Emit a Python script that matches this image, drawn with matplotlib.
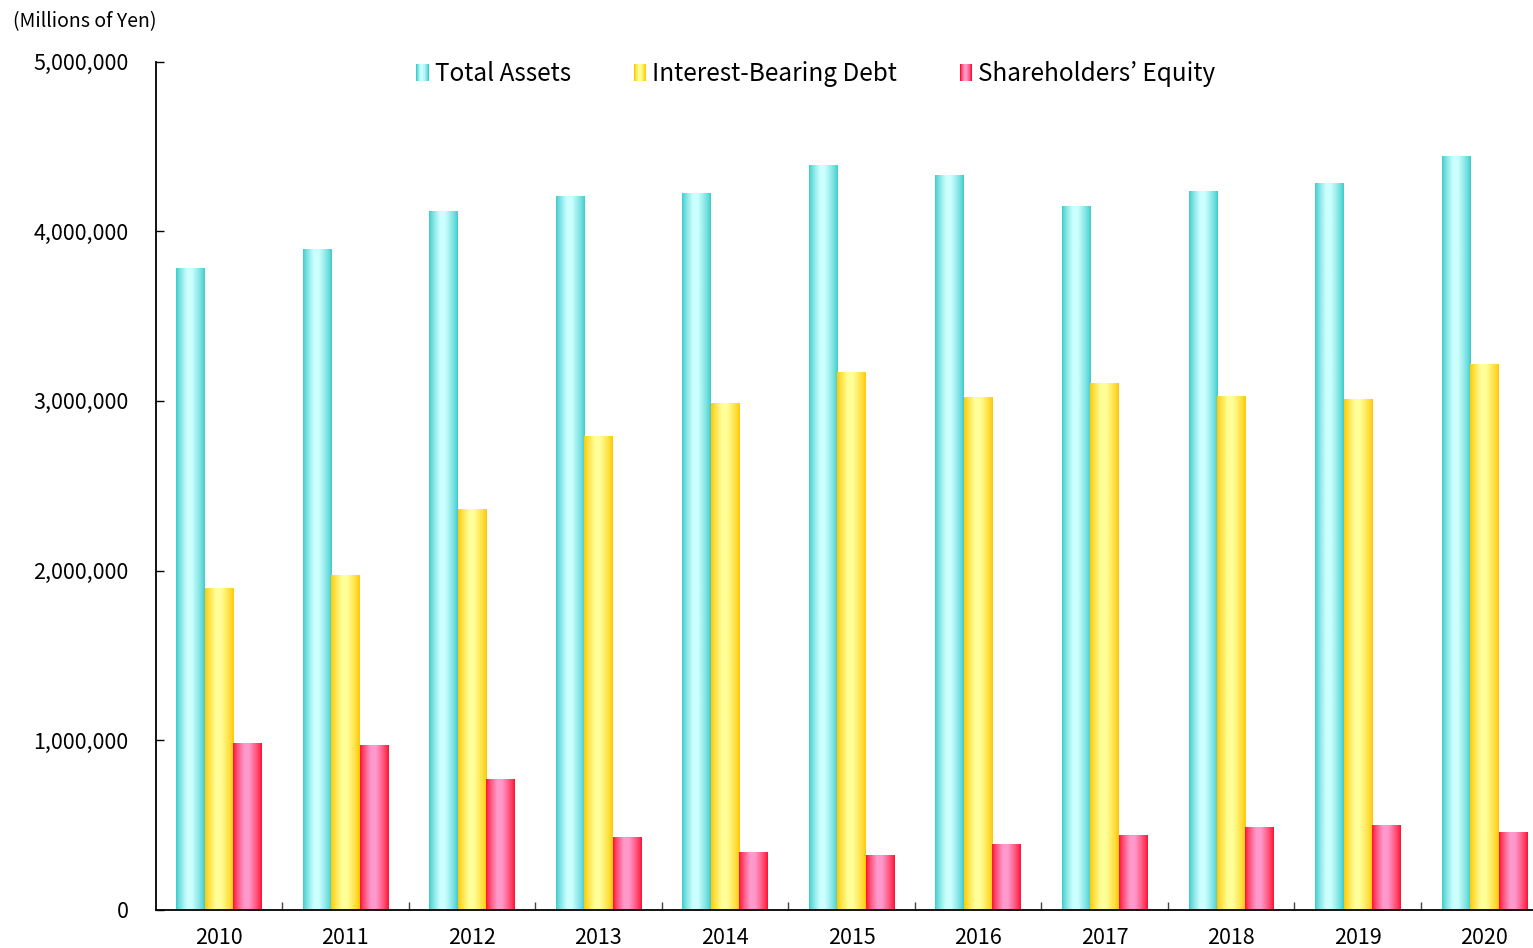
import numpy as np
import matplotlib
matplotlib.use("Agg")
import matplotlib.pyplot as plt
from matplotlib.patches import Rectangle
from matplotlib.legend_handler import HandlerBase
from matplotlib.ticker import FuncFormatter, FixedLocator
from matplotlib.colors import to_rgb

plt.rcParams['font.family'] = ['Noto Sans CJK JP', 'DejaVu Sans']

years = ['2010', '2011', '2012', '2013', '2014', '2015', '2016', '2017', '2018', '2019', '2020']
total_assets = [3781000, 3893000, 4117000, 4205000, 4223000, 4393000, 4329000, 4146000, 4234000, 4282000, 4442000]
interest_bearing_debt = [1896000, 1973000, 2362000, 2792000, 2986000, 3169000, 3022000, 3104000, 3027000, 3009000, 3217000]
shareholders_equity = [983000, 972000, 771000, 430000, 342000, 324000, 389000, 442000, 489000, 501000, 460000]
series_names = ['Total Assets', 'Interest-Bearing Debt', "Shareholders\u2019 Equity"]
y_ticks = [0, 1000000, 2000000, 3000000, 4000000, 5000000]

# (edge colour, highlight colour)
palettes = [('#3ECBCB', '#CCFFFF'), ('#FFC800', '#FFFF99'), ('#FF1030', '#FF99CC')]


def gradient_colors(edge, light, n=64):
    t = np.linspace(0, 1, n)
    f = np.interp(t, [0, 0.38, 0.55, 1], [0, 1, 1, 0]) ** 0.8
    e = np.array(to_rgb(edge)); l = np.array(to_rgb(light))
    return e[None, :] * (1 - f[:, None]) + l[None, :] * f[:, None]


W, H = 1533, 948
fig = plt.figure(figsize=(W / 100, H / 100), dpi=100)
x_left, x_right = 155.5, 1547.6
y_bot, y_top = 910, 61.5
ax = fig.add_axes([x_left / W, 1 - y_bot / H, (x_right - x_left) / W, (y_bot - y_top) / H])

x = np.arange(len(years))
bw = 0.225
all_series = [total_assets, interest_bearing_debt, shareholders_equity]
for i, (vals, (edge, light)) in enumerate(zip(all_series, palettes)):
    bars = ax.bar(x + (i - 1) * bw, vals, width=bw, color='none', edgecolor='none', zorder=2)
    cols = gradient_colors(edge, light)[None, :, :]
    for p in bars.patches:
        x0, y0 = p.get_x(), p.get_y()
        im = ax.imshow(cols, extent=[x0, x0 + p.get_width(), y0, y0 + p.get_height()],
                       aspect='auto', interpolation='bilinear', zorder=2)
        im.set_clip_path(p)

ax.set_xlim(-0.5, len(years) - 0.5)
ax.set_ylim(0, 5000000)

for s in ['top', 'right']:
    ax.spines[s].set_visible(False)
for s in ['left', 'bottom']:
    ax.spines[s].set_linewidth(1.3)
    ax.spines[s].set_color('black')

ax.yaxis.set_major_locator(FixedLocator(y_ticks))
ax.yaxis.set_major_formatter(FuncFormatter(lambda v, p: f'{int(v):,}'))
ax.tick_params(axis='y', direction='in', length=6, width=1, pad=19.5, labelsize=15.5)
ax.set_xticks(x)
ax.set_xticklabels(years)
ax.tick_params(axis='x', which='major', length=0, pad=12, labelsize=15.5)
ax.set_xticks(np.arange(len(years) - 1) + 0.5, minor=True)
ax.tick_params(axis='x', which='minor', direction='in', length=6, width=1, color='#444444')


class GradientHandler(HandlerBase):
    def __init__(self, edge, light):
        super().__init__()
        self.edge, self.light = edge, light

    def create_artists(self, legend, orig_handle, xdescent, ydescent, width, height, fontsize, trans):
        n = 12
        cols = gradient_colors(self.edge, self.light, n)
        arts = []
        w = width / n
        for k in range(n):
            r = Rectangle((-xdescent + k * w, -ydescent), w * 1.05, height,
                          facecolor=cols[k], edgecolor='none', transform=trans)
            arts.append(r)
        return arts


handles = [Rectangle((0, 0), 1, 1) for _ in series_names]
hmap = {h: GradientHandler(*pal) for h, pal in zip(handles, palettes)}
leg = fig.legend(handles, series_names, handler_map=hmap, ncol=3, frameon=False,
                 loc='center', bbox_to_anchor=(816 / W, 1 - 74 / H), fontsize=17.5,
                 handlelength=0.5, handleheight=0.65, handletextpad=0.25, columnspacing=2.6)

fig.text(13 / W, 1 - 22 / H, '(Millions of Yen)', fontsize=14, va='center', ha='left')

fig.savefig('out.png', dpi=100)
